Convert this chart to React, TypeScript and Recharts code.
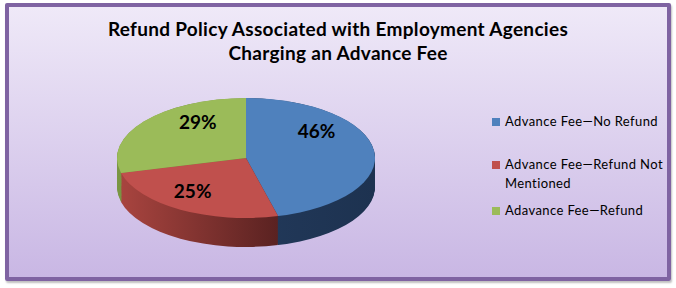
import { PieChart, Pie, Cell, Legend } from "recharts";

const categories = ["Advance Fee—No Refund", "Advance Fee—Refund Not Mentioned", "Adavance Fee—Refund"];
const shares = [46, 25, 29];
const titleLines = ["Refund Policy Associated with Employment Agencies", "Charging an Advance Fee"];

const TOP_FILLS = ["#4F81BD", "#C0504D", "#9BBB59"];
const SIDE_FILLS = ["url(#side-blue)", "url(#side-red)", "url(#side-green)"];

// pie is drawn as a circle and squashed to an ellipse
const FLAT = 0.465;
const CX = 246;
const CY = 158 / FLAT;
const R = 129;
const DEPTH = 29 / FLAT;
const depthSteps = Array.from({ length: Math.ceil(DEPTH / 2) }, (_, i) => DEPTH - i * 2);
// excel's perspective moves the labels off the plain radial spot
const LABEL_NUDGE = [
  [-14, -14],
  [-10, 7],
  [19, -3],
];

const data = categories.map((name, i) => ({ name, value: shares[i] }));

const renderLabel = (p: any) => {
  const RAD = Math.PI / 180;
  const r = p.outerRadius * 0.66;
  const [nx, ny] = LABEL_NUDGE[p.index] || [0, 0];
  const x = p.cx + r * Math.cos(-p.midAngle * RAD) + nx;
  const y = (p.cy + r * Math.sin(-p.midAngle * RAD)) * FLAT - 9 + ny;
  return (
    <text
      x={x}
      y={y}
      textAnchor="middle"
      dominantBaseline="central"
      fill="#000"
      style={{ fontFamily: "Lato, sans-serif", fontWeight: 700, fontSize: 19 }}
    >
      {`${Math.round(p.percent * 100)}%`}
    </text>
  );
};

const renderLegend = (props: any) => {
  const seen = new Set<string>();
  const items = (props.payload || [])
    .filter((e: any) => {
      if (e.type === "none" || seen.has(e.value)) return false;
      seen.add(e.value);
      return true;
    })
    .sort((a: any, b: any) => categories.indexOf(a.value) - categories.indexOf(b.value));
  const gaps = [24, 8, 0];
  return (
    <div style={{ width: 180, fontFamily: "Lato, sans-serif", fontSize: 13, letterSpacing: 0.4, color: "#000" }}>
      {items.map((e: any, i: number) => (
        <div key={e.value} style={{ display: "flex", alignItems: "flex-start", marginBottom: gaps[i], lineHeight: "19px" }}>
          <span style={{ width: 8, height: 8, background: TOP_FILLS[categories.indexOf(e.value)] || e.color, marginTop: 6, marginRight: 5, flexShrink: 0 }} />
          <span style={{ width: 162, flexShrink: 0 }}>{e.value}</span>
        </div>
      ))}
    </div>
  );
};

export default function App() {
  return (
    <div style={{ position: "absolute", left: 0, top: 0, width: 676, height: 288 }}>
      <style>{`.recharts-pie-sector { transform: scaleY(${FLAT}); transform-origin: 0 0; }`}</style>
      <div
        style={{
          position: "absolute",
          left: 5,
          top: 3,
          width: 666,
          height: 278,
          boxSizing: "border-box",
          border: "4px solid #7F63A2",
          borderRadius: 2,
          background: "linear-gradient(#EFE9F8, #C9B7E4)",
          boxShadow: "1px 2px 2px rgba(0,0,0,0.25)",
        }}
      />
      <div
        style={{
          position: "absolute",
          left: 0,
          top: 17,
          width: 676,
          textAlign: "center",
          fontFamily: "Lato, sans-serif",
          fontWeight: 700,
          fontSize: 19,
          letterSpacing: 0.3,
          lineHeight: "24px",
          color: "#000",
        }}
      >
        {titleLines.map((t) => (
          <div key={t}>{t}</div>
        ))}
      </div>
      <div style={{ position: "absolute", left: 0, top: 0 }}>
        <PieChart width={676} height={288} margin={{ top: 0, right: 0, bottom: 0, left: 0 }}>
          <defs>
            <linearGradient id="side-red" x1="0" y1="0" x2="1" y2="0">
              <stop offset="0%" stopColor="#A8443F" />
              <stop offset="100%" stopColor="#5A2221" />
            </linearGradient>
            <linearGradient id="side-blue" x1="0" y1="0" x2="1" y2="0">
              <stop offset="0%" stopColor="#22395A" />
              <stop offset="100%" stopColor="#1D3250" />
            </linearGradient>
            <linearGradient id="side-green" x1="0" y1="0" x2="1" y2="0">
              <stop offset="0%" stopColor="#7A9643" />
              <stop offset="100%" stopColor="#5E7533" />
            </linearGradient>
          </defs>
          {depthSteps.map((d) => (
            <Pie
              key={d}
              data={data}
              dataKey="value"
              nameKey="name"
              cx={CX}
              cy={CY + d}
              outerRadius={R}
              startAngle={90}
              endAngle={-270}
              stroke="none"
              legendType="none"
              isAnimationActive={false}
            >
              {data.map((e, i) => (
                <Cell key={e.name} fill={SIDE_FILLS[i]} stroke="none" />
              ))}
            </Pie>
          ))}
          <Pie
            data={data}
            dataKey="value"
            nameKey="name"
            cx={CX}
            cy={CY}
            outerRadius={R}
            startAngle={90}
            endAngle={-270}
            stroke="none"
            label={renderLabel}
            labelLine={false}
            isAnimationActive={false}
          >
            {data.map((e, i) => (
              <Cell key={e.name} fill={TOP_FILLS[i]} stroke="none" />
            ))}
          </Pie>
          <Legend
            layout="vertical"
            verticalAlign="top"
            align="right"
            content={renderLegend}
            wrapperStyle={{ left: 492, top: 112, width: 180 }}
          />
        </PieChart>
      </div>
    </div>
  );
}
